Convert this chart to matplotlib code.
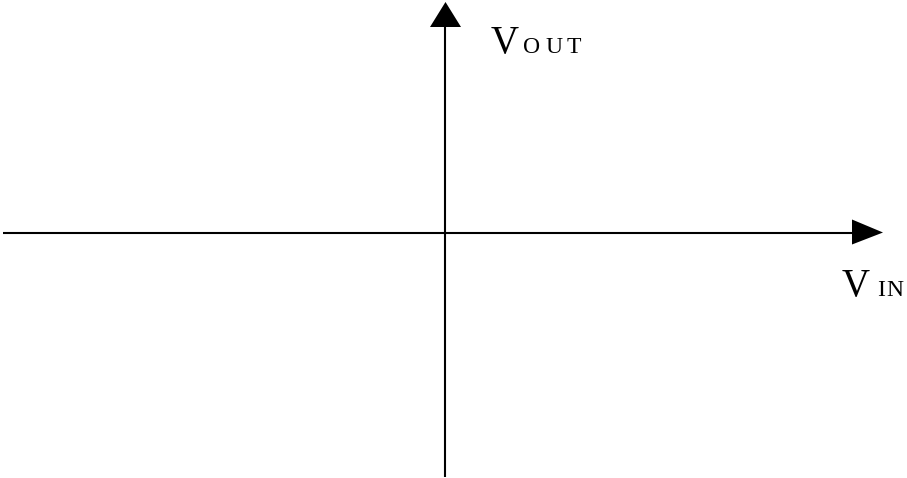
import matplotlib
matplotlib.use("Agg")
import matplotlib.pyplot as plt
from matplotlib.patches import Polygon

# Diagram geometry (pixel space of the 907x478 canvas)
h_axis_y = 232.5
h_axis_x = [3, 853]
h_arrow = [(852, 219.5), (852, 244.5), (883, 232.5)]
v_axis_x = 445
v_axis_y = [477, 26]
v_arrow = [(430, 27), (461, 27), (445.5, 2)]

# Labels: (text, x, baseline y, fontsize)
out_main = ("V", 491, 53, 28)
out_sub = [("O", 523, 53, 17), ("U", 545.5, 53, 17), ("T", 567, 53, 17)]
in_main = ("V", 842, 296, 28)
in_sub = [("I", 877, 296, 17), ("N", 886.5, 296, 17)]

fig = plt.figure(figsize=(9.07, 4.78), dpi=100)
ax = fig.add_axes([0, 0, 1, 1])
ax.set_xlim(0, 907)
ax.set_ylim(478, 0)
ax.axis("off")

lw = 1.5
ax.plot(h_axis_x, [h_axis_y, h_axis_y], color="black", lw=lw, solid_capstyle="butt")
ax.plot([v_axis_x, v_axis_x], v_axis_y, color="black", lw=lw, solid_capstyle="butt")
ax.add_patch(Polygon(h_arrow, closed=True, color="black", lw=0))
ax.add_patch(Polygon(v_arrow, closed=True, color="black", lw=0))

font = "Liberation Serif"
for t, x, y, s in [out_main] + out_sub + [in_main] + in_sub:
    ax.text(x, y, t, fontsize=s, family=font, ha="left", va="baseline", color="black")

fig.savefig("out.png", dpi=100)
